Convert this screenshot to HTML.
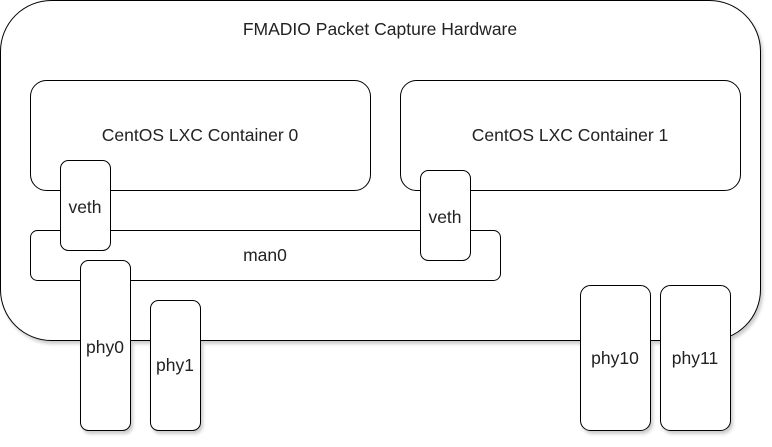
<!DOCTYPE html>
<html><head><meta charset="utf-8"><style>
body{margin:0;background:#fff;width:772px;height:442px;overflow:hidden}
</style></head><body>
<svg width="772" height="442" xmlns="http://www.w3.org/2000/svg" font-family="Liberation Sans, Arial, sans-serif" font-size="17.5" fill="#222">
<defs><filter id="s" x="-10%" y="-10%" width="130%" height="130%"><feDropShadow dx="2" dy="3" stdDeviation="1.5" flood-color="#000" flood-opacity="0.2"/></filter></defs>
<g stroke="#000" stroke-width="1" fill="#fff" filter="url(#s)">
<rect x="0.5" y="0.5" width="760" height="340" rx="51"/>
<rect x="30.5" y="80.5" width="340" height="110" rx="16"/>
<rect x="400.5" y="80.5" width="340" height="110" rx="16"/>
<rect x="30.5" y="230.5" width="470" height="50" rx="7"/>
<rect x="60.5" y="160.5" width="50" height="90" rx="8"/>
<rect x="420.5" y="170.5" width="50" height="90" rx="8"/>
<rect x="80.5" y="260.5" width="50" height="170" rx="8"/>
<rect x="150.5" y="300.5" width="50" height="130" rx="8"/>
<rect x="580.5" y="285.5" width="70" height="145" rx="10"/>
<rect x="660.5" y="285.5" width="70" height="145" rx="10"/>
</g>
<g text-anchor="middle" stroke="none">
<text x="380" y="35">FMADIO Packet Capture Hardware</text>
<text x="200" y="141">CentOS LXC Container 0</text>
<text x="570" y="141">CentOS LXC Container 1</text>
<text x="265" y="261">man0</text>
<text x="85" y="213">veth</text>
<text x="445" y="223">veth</text>
<text x="105" y="353">phy0</text>
<text x="175" y="371">phy1</text>
<text x="615" y="364">phy10</text>
<text x="695" y="364">phy11</text>
</g>
</svg>
</body></html>
